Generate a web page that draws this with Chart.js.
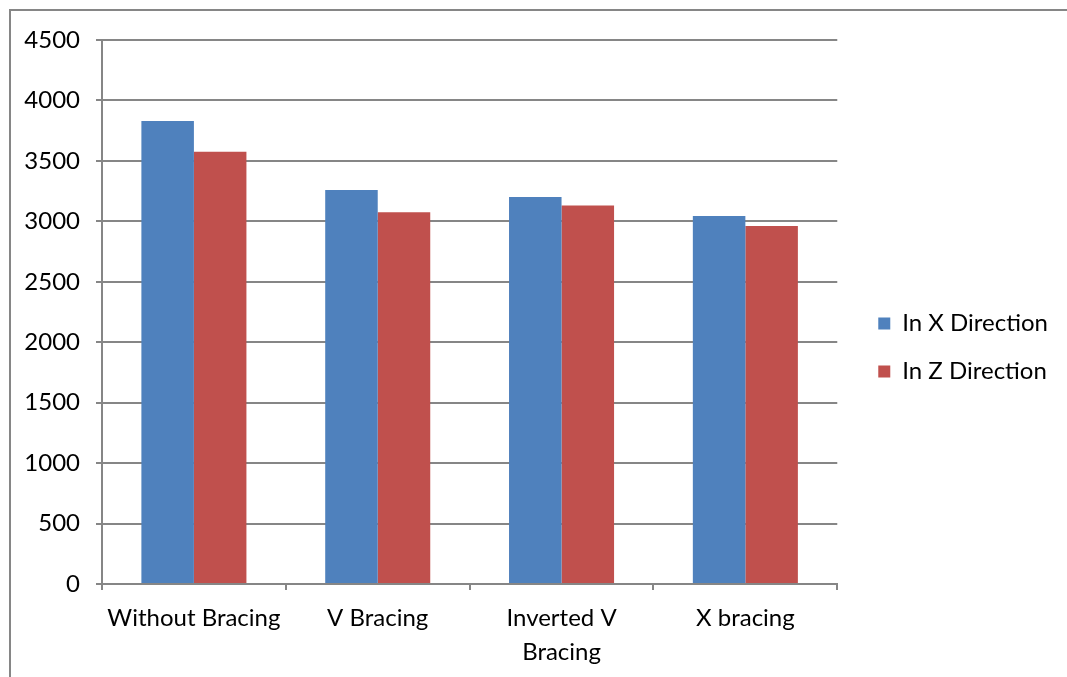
<!DOCTYPE html>
<html>
<head>
<meta charset="utf-8">
<script src="https://cdn.jsdelivr.net/npm/chart.js@4"></script>
<style>
  html, body { margin: 0; padding: 0; background: #ffffff; }
  #wrap { width: 1067px; height: 677px; position: relative; }
</style>
</head>
<body>
<div id="wrap"><canvas id="c" width="1067" height="677"></canvas></div>
<script>
const categories = ['Without Bracing', 'V Bracing', ['Inverted V', 'Bracing'], 'X bracing'];
const seriesNames = ['In X Direction', 'In Z Direction'];
const xDirection = [3830, 3259, 3201, 3044];
const zDirection = [3575, 3075, 3130, 2961];
const yTicks = [0, 500, 1000, 1500, 2000, 2500, 3000, 3500, 4000, 4500];

const FONT = "Lato, 'Open Sans', sans-serif";
const GRID = '#868686';

const borderPlugin = {
  id: 'outerBorder',
  beforeDraw(chart) {
    const ctx = chart.ctx;
    ctx.save();
    ctx.fillStyle = '#ffffff';
    ctx.fillRect(0, 0, chart.width, chart.height);
    ctx.strokeStyle = GRID;
    ctx.lineWidth = 2;
    ctx.beginPath();
    ctx.moveTo(10, chart.height);
    ctx.lineTo(10, 10);
    ctx.lineTo(chart.width, 10);
    ctx.stroke();
    ctx.restore();
  },
  afterLayout(chart) {
    const lg = chart.legend;
    if (lg) { lg.top -= 11; lg.bottom -= 11; lg.left += 17; lg.right += 17; }
  }
};

new Chart(document.getElementById('c'), {
  type: 'bar',
  data: {
    labels: categories,
    datasets: [
      { label: seriesNames[0], data: xDirection, backgroundColor: '#4F81BD', borderWidth: 0 },
      { label: seriesNames[1], data: zDirection, backgroundColor: '#C0504D', borderWidth: 0 }
    ]
  },
  options: {
    responsive: false,
    animation: false,
    devicePixelRatio: 1,
    layout: { padding: { left: 10, top: 40, right: 26, bottom: 0 } },
    datasets: { bar: { categoryPercentage: 2 / 3.5, barPercentage: 1.0 } },
    plugins: {
      legend: {
        position: 'right',
        align: 'center',
        labels: {
          boxWidth: 12, boxHeight: 12,
          color: '#000000',
          font: { family: FONT, size: 24 },
          padding: 24
        }
      },
      tooltip: { enabled: false },
      title: { display: false }
    },
    scales: {
      x: {
        offset: true,
        afterFit(scale) { scale.height = 93; },
        grid: { offset: true, drawOnChartArea: false, drawTicks: true, tickLength: 6, color: GRID, lineWidth: 2 },
        border: { display: true, color: GRID, width: 2 },
        ticks: {
          color: '#000000', font: { family: FONT, size: 24, lineHeight: 1.42 },
          padding: 11, maxRotation: 0, autoSkip: false
        }
      },
      y: {
        min: 0, max: 4500,
        afterFit(scale) { scale.width = 92; },
        afterBuildTicks(scale) { scale.ticks = yTicks.map(v => ({ value: v })); },
        grid: { color: GRID, lineWidth: 2, tickLength: 6, drawTicks: true },
        border: { display: true, color: GRID, width: 2 },
        ticks: {
          color: '#000000', font: { family: FONT, size: 24 }, padding: 16,
          callback: (v) => String(v)
        }
      }
    }
  },
  plugins: [borderPlugin]
});
</script>
</body>
</html>
